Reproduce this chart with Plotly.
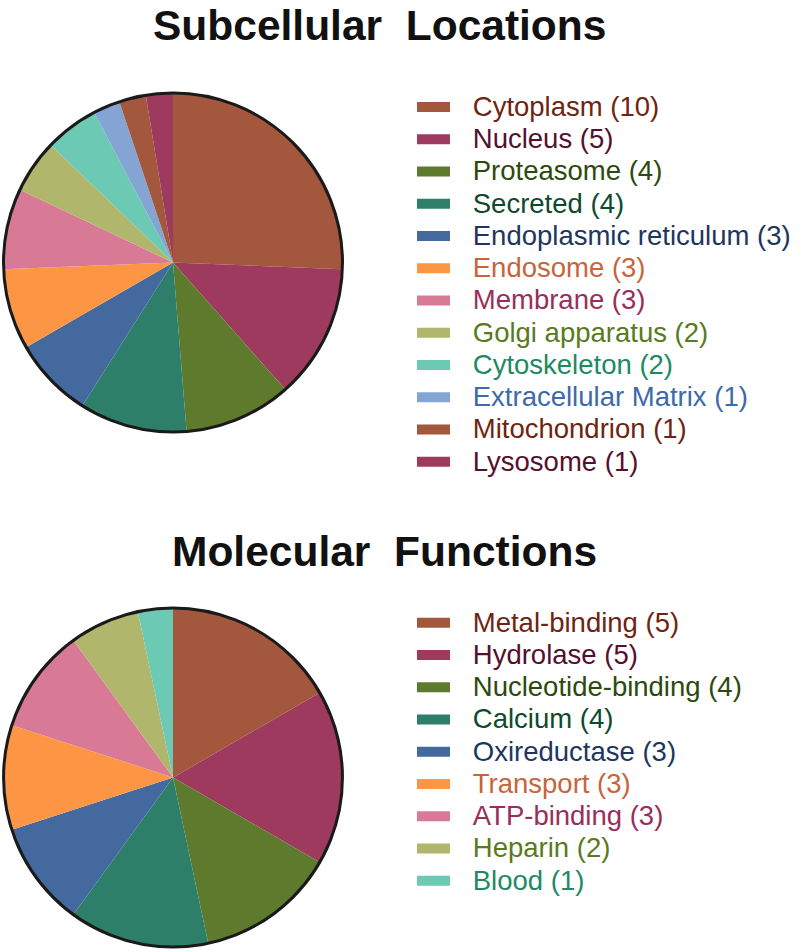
import plotly.graph_objects as go

# Subcellular locations
loc_labels = ['Cytoplasm', 'Nucleus', 'Proteasome', 'Secreted', 'Endoplasmic reticulum',
              'Endosome', 'Membrane', 'Golgi apparatus', 'Cytoskeleton',
              'Extracellular Matrix', 'Mitochondrion', 'Lysosome']
loc_counts = [10, 5, 4, 4, 3, 3, 3, 2, 2, 1, 1, 1]
loc_colors = ['#a3573c', '#9e3a5e', '#5e7a2c', '#2e7f69', '#44699e', '#fd9644',
              '#d87a96', '#b0b66c', '#6ccab4', '#84a4d4', '#a3573c', '#9e3a5e']
loc_text_colors = ['#6e2410', '#55102e', '#2c4a0e', '#0e4a2e', '#1e365e', '#c8643c',
                   '#9a2e5a', '#5a7a1e', '#1e8a62', '#3c6aaa', '#6e2410', '#55102e']

# Molecular functions
fun_labels = ['Metal-binding', 'Hydrolase', 'Nucleotide-binding', 'Calcium', 'Oxireductase',
              'Transport', 'ATP-binding', 'Heparin', 'Blood']
fun_counts = [5, 5, 4, 4, 3, 3, 3, 2, 1]
fun_colors = loc_colors[:9]
fun_text_colors = loc_text_colors[:9]

FONT = 'Liberation Sans, Arial, sans-serif'


def legend_name(label, count, color):
    # a little gap between the swatch and the text
    return ('<span style="font-size:32px">&nbsp;&nbsp;</span>'
            '<span style="color:%s;font-size:27.5px">%s (%d)</span>' % (color, label, count))


fig = go.Figure()

pies = [
    (loc_labels, loc_counts, loc_colors, loc_text_colors, [0.5462, 0.9023], 'legend'),
    (fun_labels, fun_counts, fun_colors, fun_text_colors, [0.0053, 0.3613], 'legend2'),
]
for labels, counts, colors, tcolors, ydom, leg in pies:
    fig.add_trace(go.Pie(
        labels=labels,
        values=counts,
        marker=dict(colors=colors, line=dict(width=0)),
        sort=False,
        direction='clockwise',
        rotation=0,
        textinfo='none',
        hoverinfo='label+value',
        showlegend=False,
        domain=dict(x=[0.00375, 0.42875], y=ydom),
    ))
    # outer ring only
    fig.add_trace(go.Pie(
        values=[1],
        labels=[''],
        marker=dict(colors=['rgba(0,0,0,0)'], line=dict(color='#1a1a1a', width=3)),
        textinfo='none',
        hoverinfo='skip',
        showlegend=False,
        domain=dict(x=[0.00375, 0.42875], y=ydom),
    ))
    # legend entries with wide swatches
    for l, n, c, tc in zip(labels, counts, colors, tcolors):
        fig.add_trace(go.Scatter(
            x=[None], y=[None], mode='lines',
            line=dict(color=c, width=15),
            name=legend_name(l, n, tc),
            legend=leg,
        ))

legend_style = dict(
    font=dict(family=FONT, size=22.5),
    xanchor='left', yanchor='top',
    itemwidth=33,
    bgcolor='rgba(0,0,0,0)',
    itemclick=False, itemdoubleclick=False,
)

title_font = dict(family=FONT, size=42.5, color='#111111')

fig.update_layout(
    width=800, height=952,
    margin=dict(l=0, r=0, t=0, b=0),
    paper_bgcolor='white',
    plot_bgcolor='white',
    xaxis=dict(visible=False),
    yaxis=dict(visible=False),
    legend=dict(x=0.515, y=0.9097, **legend_style),
    legend2=dict(x=0.515, y=0.368, **legend_style),
    annotations=[
        dict(text='<b>Subcellular&nbsp; Locations</b>', x=0.474, y=1.0, xref='paper', yref='paper',
             xanchor='center', yanchor='top', showarrow=False, font=title_font),
        dict(text='<b>Molecular&nbsp; Functions</b>', x=0.48, y=0.4475, xref='paper', yref='paper',
             xanchor='center', yanchor='top', showarrow=False, font=title_font),
    ],
)

# drop the default page margin so the figure sits at the window's corner
fig.write_html("out.html", config={'displayModeBar': False},
               post_script="document.body.style.margin='0';")
